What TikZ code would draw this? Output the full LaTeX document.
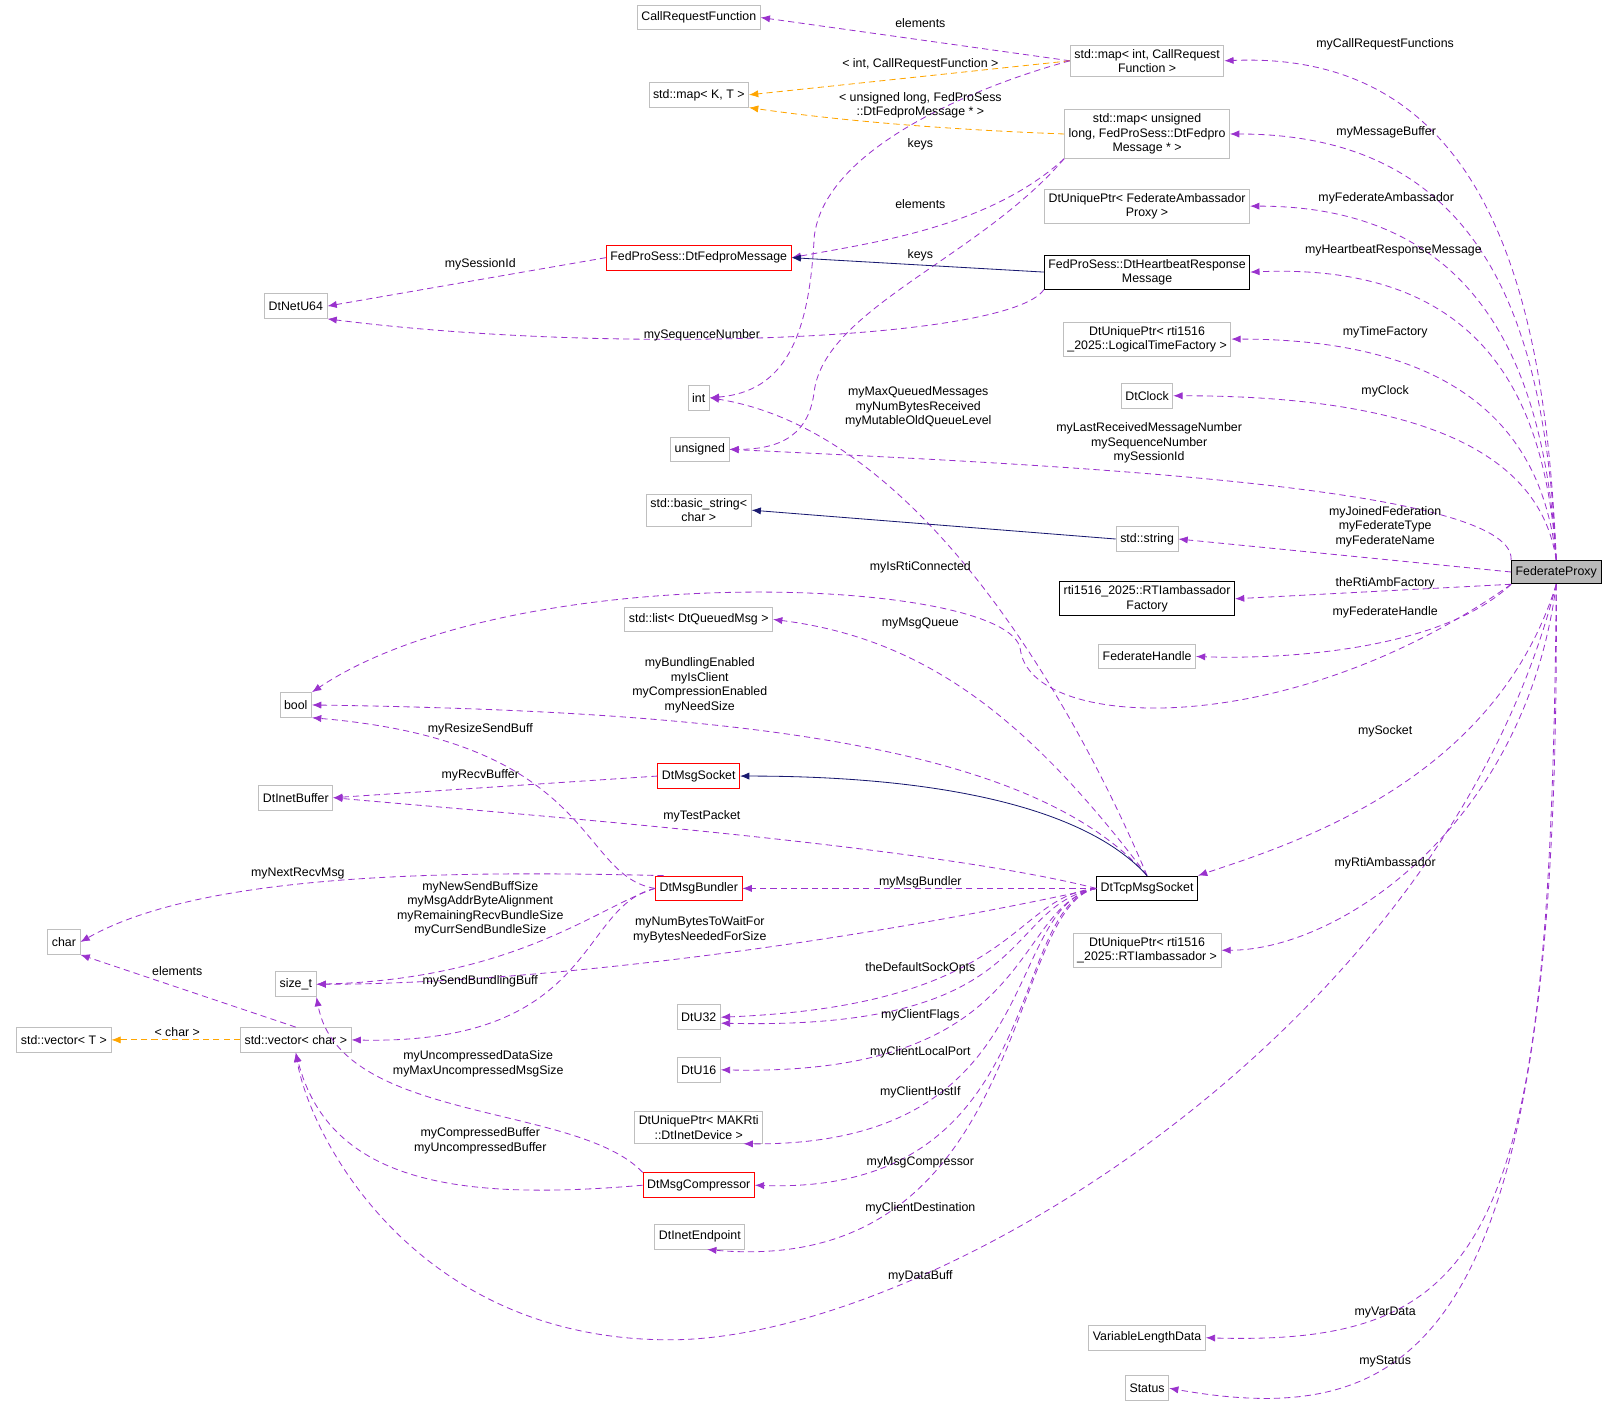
\documentclass[tikz,border=0pt]{standalone}
\usepackage{fontspec}
\setmainfont{Liberation Sans}
\usetikzlibrary{arrows.meta}
\definecolor{purp}{HTML}{9A32CD}
\definecolor{orng}{HTML}{FFA500}
\definecolor{navy}{HTML}{191970}
\definecolor{gbord}{HTML}{BFBFBF}
\begin{document}
\begin{tikzpicture}[x=1pt,y=-1pt,font=\fontsize{12}{14}\selectfont,
  box/.style={draw=gbord,line width=0.8pt,inner sep=4pt,minimum height=24pt,align=center,fill=white},
  rbox/.style={box,draw=red},
  bbox/.style={box,draw=black},
  mem/.style={draw=purp,dash pattern=on 6pt off 4pt,line width=0.8pt,-{Latex[length=9pt,width=7pt]}},
  tmpl/.style={mem,draw=orng},
  inh/.style={draw=navy,line width=0.8pt,-{Latex[length=9pt,width=7pt]}},
  lbl/.style={align=center,inner sep=0pt}]
\useasboundingbox (0,0) rectangle (1568,1384);
\node[bbox,fill=gray!55,minimum height=23pt] (fp) at (1510,555) {FederateProxy};
\node[box] (cr) at (678,17) {CallRequestFunction};
\node[box] (map1) at (1113,59) {std::map< int, CallRequest\\Function >};
\node[box] (mapkt) at (678,92) {std::map< K, T >};
\node[box] (map2) at (1113,130) {std::map< unsigned\\ long, FedProSess::DtFedpro\\Message * >};
\node[box] (fedamb) at (1113,200) {DtUniquePtr< FederateAmbassador\\Proxy >};
\node[rbox] (fedpro) at (678,250) {FedProSess::DtFedproMessage};
\node[bbox] (hb) at (1113,264) {FedProSess::DtHeartbeatResponse\\Message};
\node[box] (netu) at (287,297) {DtNetU64};
\node[box] (ltf) at (1113,329) {DtUniquePtr< rti1516\\\_2025::LogicalTimeFactory >};
\node[box] (int) at (678,386) {int};
\node[box] (clock) at (1113,384) {DtClock};
\node[box] (uns) at (679,436) {unsigned};
\node[box] (basic) at (678,495) {std::basic\_string<\\char >};
\node[box] (str) at (1113,523) {std::string};
\node[bbox] (rtifac) at (1113,581) {rti1516\_2025::RTIambassador\\Factory};
\node[box] (list) at (678,601) {std::list< DtQueuedMsg >};
\node[box] (fedh) at (1113,637) {FederateHandle};
\node[box] (bool) at (287,684) {bool};
\node[rbox] (msock) at (678,753) {DtMsgSocket};
\node[box] (ibuf) at (287,774) {DtInetBuffer};
\node[rbox] (bund) at (678,862) {DtMsgBundler};
\node[bbox] (tcp) at (1113,862) {DtTcpMsgSocket};
\node[box] (char) at (62,914) {char};
\node[box] (rtiamb) at (1113,922) {DtUniquePtr< rti1516\\\_2025::RTIambassador >};
\node[box] (sizet) at (287,955) {size\_t};
\node[box] (vt) at (62,1009) {std::vector< T >};
\node[box] (vchar) at (287,1009) {std::vector< char >};
\node[box] (u32) at (678,987) {DtU32};
\node[box] (u16) at (678,1038) {DtU16};
\node[box] (dev) at (678,1094) {DtUniquePtr< MAKRti\\::DtInetDevice >};
\node[rbox] (comp) at (678,1150) {DtMsgCompressor};
\node[box] (endp) at (679,1200) {DtInetEndpoint};
\node[box] (vld) at (1113,1298) {VariableLengthData};
\node[box] (stat) at (1113,1347) {Status};

% FederateProxy edges
\draw[mem] (fp.north) .. controls (1500,300) and (1450,48) .. (map1.east);
\draw[mem] (fp.north) .. controls (1500,330) and (1450,130) .. (map2.east);
\draw[mem] (fp.north) .. controls (1500,380) and (1450,200) .. (fedamb.east);
\draw[mem] (fp.north) .. controls (1500,400) and (1450,254) .. (hb.east);
\draw[mem] (fp.north) .. controls (1500,450) and (1450,329) .. (ltf.east);
\draw[mem] (fp.north) .. controls (1500,480) and (1450,384) .. (clock.east);
\draw[mem] (fp.north west) .. controls (1470,470) and (1000,450) .. (uns.east);
\draw[mem] (fp.west) -- (str.east);
\draw[mem] (fp.south west) -- (rtifac.east);
\draw[mem] (fp.south west) .. controls (1400,630) and (1250,640) .. (fedh.east);
\draw[mem] (fp.south west) .. controls (1250,720) and (1000,710) .. (990,630) .. controls (980,560) and (500,540) .. (bool.north east);
\draw[mem] (fp.south) .. controls (1450,760) and (1250,820) .. (tcp.north east);
\draw[mem] (fp.south) .. controls (1480,800) and (1300,922) .. (rtiamb.east);
\draw[mem] (fp.south) .. controls (1400,1000) and (900,1300) .. (650,1300) .. controls (400,1300) and (300,1100) .. (vchar.south);
\draw[mem] (fp.south) .. controls (1505,1200) and (1450,1306) .. (vld.east);
\draw[mem] (fp.south) .. controls (1515,1300) and (1380,1390) .. (stat.east);

% DtTcpMsgSocket edges
\draw[mem] (tcp.north) .. controls (1050,700) and (900,420) .. (int.east);
\draw[mem] (tcp.north) .. controls (1000,700) and (900,620) .. (list.east);
\draw[mem] (tcp.north) .. controls (1000,720) and (700,690) .. (bool.east);
\draw[inh] (tcp.north) .. controls (1050,780) and (900,753) .. (msock.east);
\draw[mem] (tcp.west) .. controls (900,820) and (500,790) .. (ibuf.east);
\draw[mem] (tcp.west) -- (bund.east);
\draw[mem] (tcp.west) .. controls (800,920) and (500,955) .. (sizet.east);
\draw[mem] (tcp.west) .. controls (980,870) and (990,975) .. (u32.east);
\draw[mem] (tcp.west) .. controls (970,880) and (1010,1000) .. (u32.-15);
\draw[mem] (tcp.west) .. controls (980,880) and (1010,1045) .. (u16.east);
\draw[mem] (tcp.west) .. controls (970,880) and (1020,1112) .. (dev.-20);
\draw[mem] (tcp.west) .. controls (975,880) and (1020,1160) .. (comp.east);
\draw[mem] (tcp.west) .. controls (975,880) and (1000,1240) .. (endp.-60);

% DtMsgBundler / others
\draw[mem] (bund.west) .. controls (560,850) and (580,720) .. (bool.south east);
\draw[mem] (bund.160) .. controls (450,845) and (200,845) .. (char.east);
\draw[mem] (bund.west) .. controls (580,880) and (500,950) .. (sizet.east);
\draw[mem] (bund.west) .. controls (560,880) and (580,1014) .. (vchar.east);
\draw[mem] (msock.west) -- (ibuf.east);
\draw[mem] (vchar.north) -- (char.south east);
\draw[tmpl] (vchar.west) -- (vt.east);
\draw[mem] (comp.north west) .. controls (560,1070) and (330,1090) .. (sizet.south east);
\draw[mem] (comp.west) .. controls (450,1165) and (320,1150) .. (vchar.south);

% maps
\draw[mem] (map1.west) -- (cr.east);
\draw[tmpl] (map1.west) -- (mapkt.east);
\draw[tmpl] (map2.west) .. controls (900,125) and (800,115) .. (mapkt.south east);
\draw[mem] (map1.west) .. controls (960,80) and (800,140) .. (790,230) .. controls (785,330) and (760,380) .. (int.east);
\draw[mem] (map2.south west) .. controls (960,220) and (850,235) .. (fedpro.east);
\draw[mem] (map2.south west) .. controls (950,250) and (800,300) .. (790,380) .. controls (785,420) and (760,436) .. (uns.east);
\draw[inh] (hb.west) -- (fedpro.east);
\draw[mem] (fedpro.west) -- (netu.east);
\draw[mem] (hb.south west) .. controls (980,330) and (600,345) .. (netu.south east);
\draw[inh] (str.west) -- (basic.east);

% labels
\node[lbl] (l1) at (893,22) {elements};
\node[lbl] (l2) at (1344,43) {myCallRequestFunctions};
\node[lbl] (l3) at (893,62) {< int, CallRequestFunction >};
\node[lbl] (l4) at (893,102) {< unsigned long, FedProSess\\::DtFedproMessage * >};
\node[lbl] (l5) at (893,140) {keys};
\node[lbl] (l6) at (1345,128) {myMessageBuffer};
\node[lbl] (l7) at (893,198) {elements};
\node[lbl] (l8) at (1345,192) {myFederateAmbassador};
\node[lbl] (l9) at (1352,243) {myHeartbeatResponseMessage};
\node[lbl] (l10) at (893,248) {keys};
\node[lbl] (l11) at (466,256) {mySessionId};
\node[lbl] (l12) at (681,325) {mySequenceNumber};
\node[lbl] (l13) at (1344,322) {myTimeFactory};
\node[lbl] (l14) at (1344,380) {myClock};
\node[lbl] (l15) at (891,395) {myMaxQueuedMessages\\myNumBytesReceived\\myMutableOldQueueLevel};
\node[lbl] (l16) at (1115,430) {myLastReceivedMessageNumber\\mySequenceNumber\\mySessionId};
\node[lbl] (l17) at (1344,511) {myJoinedFederation\\myFederateType\\myFederateName};
\node[lbl] (l18) at (893,550) {myIsRtiConnected};
\node[lbl] (l19) at (1344,566) {theRtiAmbFactory};
\node[lbl] (l20) at (1344,594) {myFederateHandle};
\node[lbl] (l21) at (893,605) {myMsgQueue};
\node[lbl] (l22) at (679,665) {myBundlingEnabled\\myIsClient\\myCompressionEnabled\\myNeedSize};
\node[lbl] (l23) at (466,708) {myResizeSendBuff};
\node[lbl] (l24) at (1344,710) {mySocket};
\node[lbl] (l25) at (466,752) {myRecvBuffer};
\node[lbl] (l26) at (681,792) {myTestPacket};
\node[lbl] (l27) at (1344,838) {myRtiAmbassador};
\node[lbl] (l28) at (289,848) {myNextRecvMsg};
\node[lbl] (l29) at (893,856) {myMsgBundler};
\node[lbl] (l30) at (466,882) {myNewSendBuffSize\\myMsgAddrByteAlignment\\myRemainingRecvBundleSize\\myCurrSendBundleSize};
\node[lbl] (l31) at (679,902) {myNumBytesToWaitFor\\myBytesNeededForSize};
\node[lbl] (l32) at (172,942) {elements};
\node[lbl] (l33) at (466,952) {mySendBundlingBuff};
\node[lbl] (l34) at (172,1001) {< char >};
\node[lbl] (l35) at (893,940) {theDefaultSockOpts};
\node[lbl] (l36) at (893,985) {myClientFlags};
\node[lbl] (l37) at (893,1021) {myClientLocalPort};
\node[lbl] (l38) at (464,1032) {myUncompressedDataSize\\myMaxUncompressedMsgSize};
\node[lbl] (l39) at (893,1060) {myClientHostIf};
\node[lbl] (l40) at (466,1107) {myCompressedBuffer\\myUncompressedBuffer};
\node[lbl] (l41) at (893,1128) {myMsgCompressor};
\node[lbl] (l42) at (893,1172) {myClientDestination};
\node[lbl] (l43) at (893,1238) {myDataBuff};
\node[lbl] (l44) at (1344,1274) {myVarData};
\node[lbl] (l45) at (1344,1321) {myStatus};
\end{tikzpicture}
\end{document}
